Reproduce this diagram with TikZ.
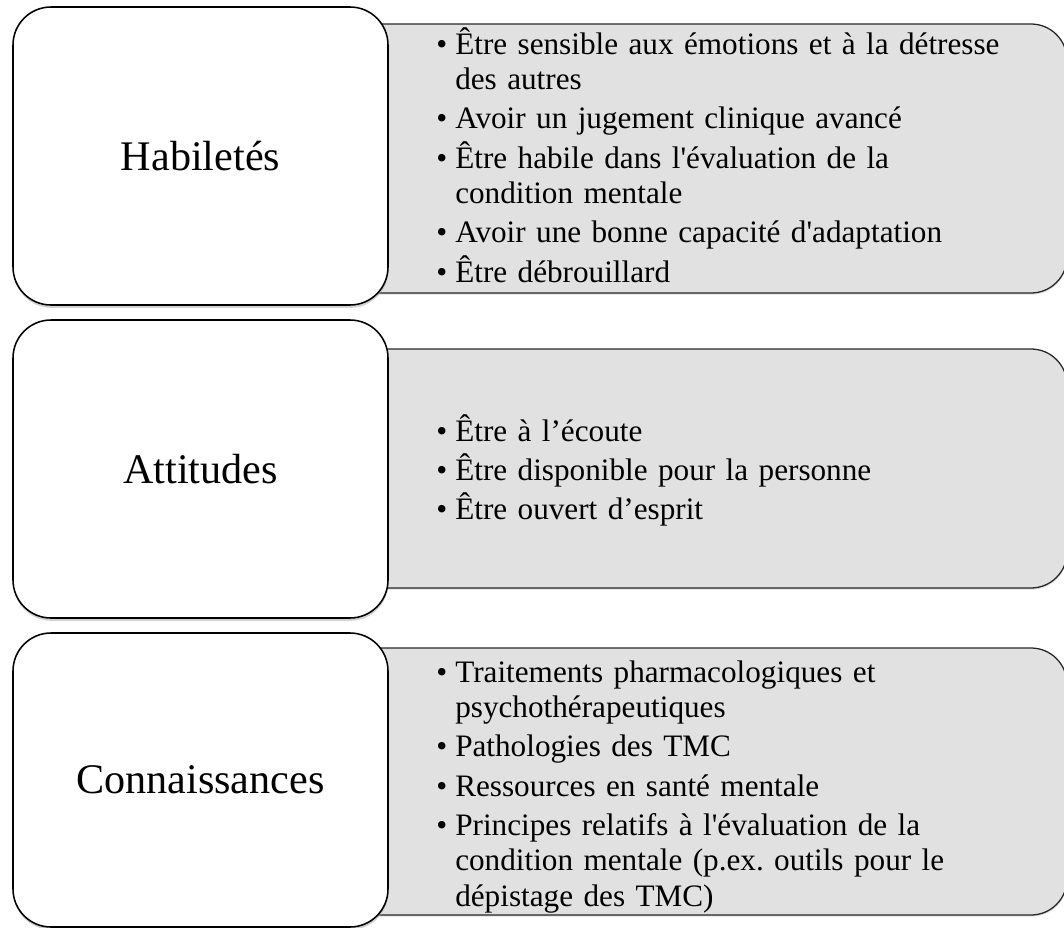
\documentclass[tikz,border=0pt]{standalone}
\usepackage{fontspec}
\setmainfont{Liberation Serif}
\usetikzlibrary{shadows}
\frenchspacing

\definecolor{fondgris}{HTML}{E1E1E1}

% one bullet point, hanging indent
\newcommand{\puce}[1]{\setlength{\parskip}{2.8pt}\hangindent=0.475cm\hangafter=1\noindent\makebox[0.475cm][l]{\textbullet}#1\par}

\tikzset{
	titre/.style={draw=black, line width=1.1pt, fill=white, rounded corners=0.95cm, minimum width=9.375cm, font=\fontsize{30pt}{36pt}\selectfont, drop shadow={shadow xshift=0.3pt, shadow yshift=-2pt, fill=black!35}},
	liste/.style={draw=black!85, line width=0.9pt, fill=fondgris, rounded corners=0.9cm, minimum width=19.175cm, drop shadow={shadow xshift=0.3pt, shadow yshift=-1.2pt, fill=black!25}},
	points/.style={inner sep=0pt, text width=15cm, align=left, anchor=base west, font=\fontsize{22.2pt}{25.2pt}\selectfont}
}

\begin{document}
\begin{tikzpicture}
	\useasboundingbox (0, 0) rectangle (26.6, -23.2);
	\clip (0, 0) rectangle (26.6, -23.2);

	% grey boxes first, the left boxes hide their left ends
	\node [liste, minimum height=6.725cm] at (17.0875, -3.9625) (hg) {};
	\node [liste, minimum height=5.975cm] at (17.0875, -11.7125) (ag) {};
	\node [liste, minimum height=6.675cm] at (17.0875, -19.5375) (cg) {};

	\node [titre, minimum height=7.45cm] at (5.0125, -3.9) (h) {Habiletés};
	\node [titre, minimum height=7.45cm] at (5.0125, -11.725) (a) {Attitudes};
	\node [titre, minimum height=7.35cm] at (5.0125, -19.5) (c) {Connaissances};

	\node [points] at (10.9, -1.35) (hl) {%
		\puce{Être sensible aux émotions et à la détresse\newline des autres}
		\puce{Avoir un jugement clinique avancé}
		\puce{Être habile dans l\textquotesingle évaluation de la\newline condition mentale}
		\puce{Avoir une bonne capacité d\textquotesingle adaptation}
		\puce{Être débrouillard}};
	\node [points] at (10.9, -11.025) (al) {%
		\puce{Être à l’écoute}
		\puce{Être disponible pour la personne}
		\puce{Être ouvert d’esprit}};
	\node [points] at (10.9, -17.05) (cl) {%
		\puce{Traitements pharmacologiques et\newline psychothérapeutiques}
		\puce{Pathologies des TMC}
		\puce{Ressources en santé mentale}
		\puce{Principes relatifs à l\textquotesingle évaluation de la\newline condition mentale (p.ex. outils pour le\newline dépistage des TMC)}};
\end{tikzpicture}
\end{document}
